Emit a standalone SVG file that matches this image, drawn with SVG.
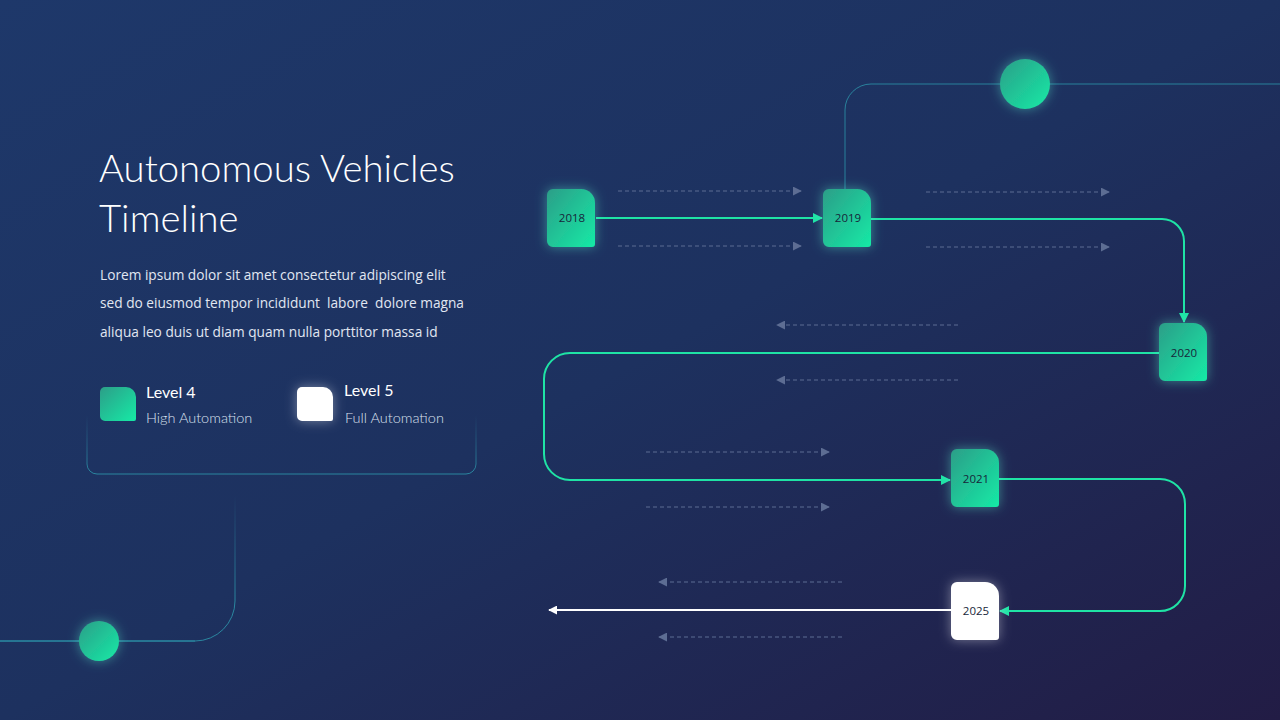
<svg xmlns="http://www.w3.org/2000/svg" width="1280" height="720" viewBox="0 0 1280 720">
<defs>
<linearGradient id="bg" x1="0" y1="0" x2="1" y2="1">
<stop offset="0" stop-color="#1e386a"/>
<stop offset="0.5" stop-color="#1d315f"/>
<stop offset="1" stop-color="#221c45"/>
</linearGradient>
<linearGradient id="grn" x1="0" y1="0" x2="1" y2="1">
<stop offset="0" stop-color="#2c9e88"/>
<stop offset="1" stop-color="#16eaa6"/>
</linearGradient>
<linearGradient id="boxStroke" gradientUnits="userSpaceOnUse" x1="0" y1="415" x2="0" y2="474">
<stop offset="0" stop-color="#2b8fa6" stop-opacity="0"/>
<stop offset="1" stop-color="#2b8fa6" stop-opacity="0.9"/>
</linearGradient>
<linearGradient id="blStroke" gradientUnits="userSpaceOnUse" x1="0" y1="495" x2="0" y2="600">
<stop offset="0" stop-color="#2b8fa6" stop-opacity="0"/>
<stop offset="1" stop-color="#2b8fa6" stop-opacity="0.9"/>
</linearGradient>
<filter id="glow2" x="-50%" y="-50%" width="200%" height="200%">
<feGaussianBlur in="SourceGraphic" stdDeviation="6" result="b"/>
<feColorMatrix in="b" type="matrix" values="0 0 0 0 0.1  0 0 0 0 0.9  0 0 0 0 0.65  0 0 0 0.45 0" result="g"/>
<feMerge><feMergeNode in="g"/><feMergeNode in="SourceGraphic"/></feMerge>
</filter>
<filter id="glowW" x="-50%" y="-50%" width="200%" height="200%">
<feGaussianBlur in="SourceGraphic" stdDeviation="6" result="b"/>
<feColorMatrix in="b" type="matrix" values="0 0 0 0 1  0 0 0 0 1  0 0 0 0 1  0 0 0 0.4 0" result="g"/>
<feMerge><feMergeNode in="g"/><feMergeNode in="SourceGraphic"/></feMerge>
</filter>
<marker id="aG" viewBox="0 0 10 10" refX="9" refY="5" markerWidth="10" markerHeight="10" markerUnits="userSpaceOnUse" orient="auto">
<path d="M0,0 L10,5 L0,10 Z" fill="#1fe3a5"/>
</marker>
<marker id="aW" viewBox="0 0 10 10" refX="9" refY="5" markerWidth="9" markerHeight="9" markerUnits="userSpaceOnUse" orient="auto">
<path d="M0,0 L10,5 L0,10 Z" fill="#ffffff"/>
</marker>
<marker id="aD" viewBox="0 0 10 10" refX="9" refY="5" markerWidth="9" markerHeight="9" markerUnits="userSpaceOnUse" orient="auto">
<path d="M0,0 L10,5 L0,10 Z" fill="#5d6d93"/>
</marker>
<path id="shape" d="M6,0 H34 A14,14 0 0 1 48,14 V55 A3,3 0 0 1 45,58 H6 A6,6 0 0 1 0,52 V6 A6,6 0 0 1 6,0 Z"/>
<path id="lshape" d="M5,0 H26 A10,10 0 0 1 36,10 V32 A2,2 0 0 1 34,34 H5 A5,5 0 0 1 0,29 V5 A5,5 0 0 1 5,0 Z"/>
</defs>
<style>
.title{font-family:Lato,"Open Sans",sans-serif;font-weight:300;font-size:38.3px;fill:#ffffff}
.body{font-family:"Open Sans",Lato,sans-serif;font-size:13.7px;fill:#e1e7f2}
.lvl{font-family:Lato,"Open Sans",sans-serif;font-size:16px;fill:#ffffff;font-weight:400}
.sub{font-family:Lato,"Open Sans",sans-serif;font-weight:300;font-size:14.5px;fill:#d9e0ee}
.yr{font-family:"Open Sans",Lato,sans-serif;font-size:11.5px;font-weight:400;fill:#17263a;text-anchor:middle}
.con{fill:none;stroke:#1fe3a5;stroke-width:2}
.dash{fill:none;stroke:#5d6d93;stroke-width:1;stroke-dasharray:4 3}
.deco{fill:none;stroke:#2b8fa6;stroke-width:1}
</style>
<rect width="1280" height="720" fill="url(#bg)"/>

<g id="decorations">
<path class="deco" d="M845,189 V110 A26,26 0 0 1 871,84 H1280" stroke-opacity="0.85"/>
<circle cx="1025" cy="84" r="25" fill="url(#grn)" filter="url(#glow2)"/>
<path d="M0,641 H195 A40,40 0 0 0 235,601 V495" fill="none" stroke="url(#blStroke)" stroke-width="1"/>
<path d="M0,641 H195" class="deco"/>
<circle cx="99" cy="641" r="20" fill="url(#grn)" filter="url(#glow2)"/>
</g>

<g id="text-panel">
<text class="title" x="99" y="182">Autonomous Vehicles</text>
<text class="title" x="99" y="232">Timeline</text>
<text class="body" x="100" y="280">Lorem ipsum dolor sit amet consectetur adipiscing elit</text>
<text class="body" x="100" y="308" xml:space="preserve">sed do eiusmod tempor incididunt  labore  dolore magna</text>
<text class="body" x="100" y="337">aliqua leo duis ut diam quam nulla porttitor massa id</text>
<rect x="87" y="360" width="389" height="114" rx="10" fill="none" stroke="url(#boxStroke)" stroke-width="1"/>
</g>

<g id="legend-level4">
<use href="#lshape" x="100" y="387" fill="url(#grn)"/>
<text class="lvl" x="146" y="398">Level 4</text>
<text class="sub" x="146" y="423">High Automation</text>
</g>
<g id="legend-level5">
<use href="#lshape" x="297" y="387" fill="#ffffff" filter="url(#glowW)"/>
<text class="lvl" x="344" y="396">Level 5</text>
<text class="sub" x="345" y="423">Full Automation</text>
</g>

<g id="connectors">
<path class="dash" d="M618,191 H801" marker-end="url(#aD)"/>
<path class="dash" d="M618,246 H801" marker-end="url(#aD)"/>
<path class="dash" d="M926,192 H1109" marker-end="url(#aD)"/>
<path class="dash" d="M926,247 H1109" marker-end="url(#aD)"/>
<path class="dash" d="M958,325 H777" marker-end="url(#aD)"/>
<path class="dash" d="M958,380 H777" marker-end="url(#aD)"/>
<path class="dash" d="M646,452 H829" marker-end="url(#aD)"/>
<path class="dash" d="M646,507 H829" marker-end="url(#aD)"/>
<path class="dash" d="M842,582 H659" marker-end="url(#aD)"/>
<path class="dash" d="M842,637 H659" marker-end="url(#aD)"/>

<path class="con" d="M596,218 H822" marker-end="url(#aG)"/>
<path class="con" d="M871,219 H1162 A22,22 0 0 1 1184,241 V322" marker-end="url(#aG)"/>
<path class="con" d="M1159,353 H570 A26,26 0 0 0 544,379 V454 A26,26 0 0 0 570,480 H950" marker-end="url(#aG)"/>
<path class="con" d="M998,479 H1160 A25,25 0 0 1 1185,504 V586 A25,25 0 0 1 1160,611 H1000" marker-end="url(#aG)"/>
<path d="M951,610 H549" fill="none" stroke="#ffffff" stroke-width="2" marker-end="url(#aW)"/>
</g>

<g id="node-2018">
<use href="#shape" x="547" y="189" fill="url(#grn)" filter="url(#glow2)"/>
<text class="yr" x="572" y="222">2018</text>
</g>
<g id="node-2019">
<use href="#shape" x="823" y="189" fill="url(#grn)" filter="url(#glow2)"/>
<text class="yr" x="848" y="222">2019</text>
</g>
<g id="node-2020">
<use href="#shape" x="1159" y="323" fill="url(#grn)" filter="url(#glow2)"/>
<text class="yr" x="1184" y="357">2020</text>
</g>
<g id="node-2021">
<use href="#shape" x="951" y="449" fill="url(#grn)" filter="url(#glow2)"/>
<text class="yr" x="976" y="483">2021</text>
</g>
<g id="node-2025">
<use href="#shape" x="951" y="582" fill="#ffffff" filter="url(#glowW)"/>
<text class="yr" x="976" y="615">2025</text>
</g>
</svg>
